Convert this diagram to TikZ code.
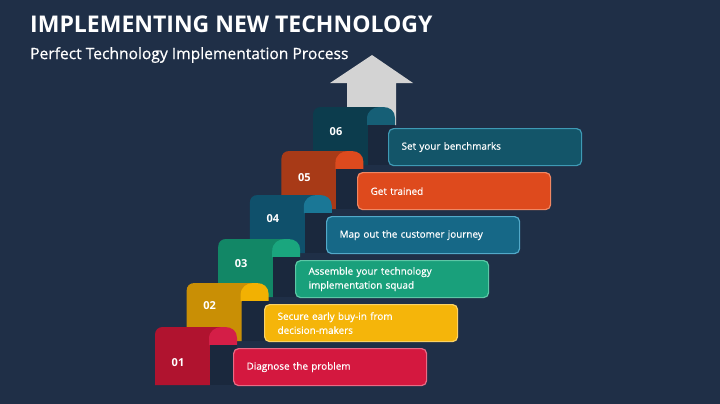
\documentclass[tikz,border=0pt]{standalone}
\usepackage{fontspec}
\setmainfont{Open Sans}
\newfontfamily\semi[FakeBold=0.6]{Open Sans}
\definecolor{bg}{HTML}{1F2F47}
\definecolor{shadowc}{HTML}{1A283D}
\definecolor{arrowc}{HTML}{D3D3D3}
\definecolor{dA}{HTML}{B0132F}\definecolor{rA}{HTML}{D41E47}\definecolor{fA}{HTML}{D4183F}\definecolor{eA}{HTML}{E96A84}
\definecolor{dB}{HTML}{C98F05}\definecolor{rB}{HTML}{F2B102}\definecolor{fB}{HTML}{F5B50A}\definecolor{eB}{HTML}{FBD265}
\definecolor{dC}{HTML}{128766}\definecolor{rC}{HTML}{1AA67E}\definecolor{fC}{HTML}{19A07B}\definecolor{eC}{HTML}{5CC7A6}
\definecolor{dD}{HTML}{0F506B}\definecolor{rD}{HTML}{1A7796}\definecolor{fD}{HTML}{166887}\definecolor{eD}{HTML}{52A9C9}
\definecolor{dE}{HTML}{A83A17}\definecolor{rE}{HTML}{DD4A1E}\definecolor{fE}{HTML}{DE4A1D}\definecolor{eE}{HTML}{F08763}
\definecolor{dF}{HTML}{0C3C4D}\definecolor{rF}{HTML}{165F76}\definecolor{fF}{HTML}{135569}\definecolor{eF}{HTML}{3E9AB5}
\tikzset{
  textbox/.style={anchor=north west, rounded corners=5pt, line width=1.2pt,
    minimum width=193pt, minimum height=37pt, text width=193pt, inner sep=0pt,
    align=left, text=white, font=\semi\fontsize{9.9}{14}\selectfont},
  numlabel/.style={text=white, font=\bfseries\fontsize{11}{13}\selectfont, inner sep=0pt},
}
\begin{document}
\begin{tikzpicture}[x=1pt,y=-1pt]
\useasboundingbox (0,0) rectangle (720,404);
\fill[bg] (0,0) rectangle (720,404);
\node[anchor=west, text=white, inner sep=0pt, font=\bfseries\fontsize{23}{26}\selectfont] (title) at (30,24) {IMPLEMENTING NEW TECHNOLOGY};
\node[anchor=west, text=white, inner sep=0pt, font=\semi\fontsize{15.6}{18}\selectfont] (subtitle) at (30,55) {Perfect Technology Implementation Process};
% arrow
\fill[arrowc] (330,83) -- (372,55) -- (413,83) -- (396,83) -- (396,125) -- (347,125) -- (347,83) -- cycle;
\foreach \i/\c/\t/\ny in {6/F/{Set your benchmarks}/25, 5/E/{Get trained}/27, 4/D/{Map out the customer journey}/24, 3/C/{Assemble your technology\\implementation squad}/25, 2/B/{Secure early buy-in from\\decision-makers}/23, 1/A/{Diagnose the problem}/36}{
  \pgfmathsetmacro{\L}{155+31.6*(\i-1)}
  \pgfmathsetmacro{\T}{327-44*(\i-1)}
  \pgfmathsetmacro{\Bx}{233+31*(\i-1)}
  \pgfmathsetmacro{\By}{348-44*(\i-1)}
  % body
  \fill[d\c] (\L,\T+58) -- (\L,\T+8) .. controls (\L,\T+3) and (\L+3,\T) .. (\L+8,\T)
     -- (\L+66,\T) -- (\L+66,\T+18) -- (\L+55,\T+18) -- (\L+55,\T+58) -- cycle;
  % roll
  \fill[r\c] (\L+54,\T+18) -- (\L+54,\T+12) .. controls (\L+54,\T+4) and (\L+60,\T) .. (\L+67,\T)
     -- (\L+70,\T) .. controls (\L+77,\T) and (\L+82,\T+4) .. (\L+82,\T+11) -- (\L+82,\T+18) -- cycle;
  % shadow under roll
  \fill[shadowc] (\L+55,\T+18) rectangle (\L+82,\T+58);
  \node[numlabel] (n\i) at (\L+23,\T+\ny) {0\i};
  \node[textbox, fill=f\c, draw=e\c] (b\i) at (\Bx,\By) {\hspace*{13pt}\parbox{178pt}{\t}};
}
\end{tikzpicture}
\end{document}
